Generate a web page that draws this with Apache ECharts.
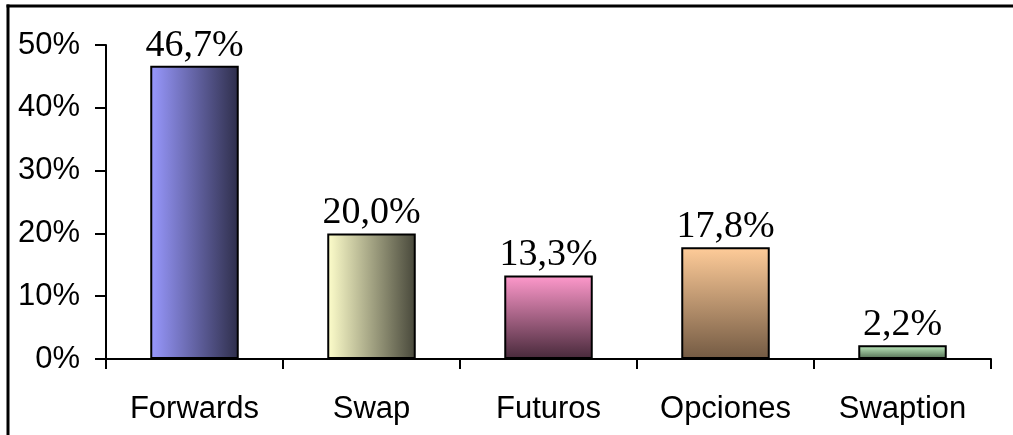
<!DOCTYPE html>
<html>
<head>
<meta charset="utf-8">
<script src="https://cdn.jsdelivr.net/npm/echarts@6/dist/echarts.min.js"></script>
<style>
  html, body { margin: 0; padding: 0; background: #fff; overflow: hidden; }
  #chart { width: 1013px; height: 435px; }
</style>
</head>
<body>
<div id="chart"></div>
<script>
// Instrument shares (percent)
const categories = ['Forwards', 'Swap', 'Futuros', 'Opciones', 'Swaption'];
const shares = [46.7, 20.0, 13.3, 17.8, 2.2];
const yTicks = [0, 10, 20, 30, 40, 50];

// Fill gradients per bar: [direction, light end, dark end]
const fills = [
  ['h', '#9999ff', '#2e2e4a'],
  ['h', '#ffffcc', '#47473a'],
  ['v', '#ff99cc', '#47293a'],
  ['v', '#ffcc99', '#735a43'],
  ['v', '#c4f2c4', '#4f6b4f']
];

function gradient(f) {
  const horiz = f[0] === 'h';
  return new echarts.graphic.LinearGradient(0, 0, horiz ? 1 : 0, horiz ? 0 : 1, [
    { offset: 0, color: f[1] },
    { offset: 1, color: f[2] }
  ]);
}

const chart = echarts.init(document.getElementById('chart'));
chart.setOption({
  animation: false,
  backgroundColor: '#ffffff',
  // chart frame: left and top edges (the rest runs off the page)
  graphic: [
    {
      type: 'line',
      shape: { x1: 8, y1: 4.5, x2: 8, y2: 440 },
      style: { stroke: '#000', lineWidth: 3 },
      silent: true
    },
    {
      type: 'line',
      shape: { x1: 6.5, y1: 6, x2: 1013, y2: 6 },
      style: { stroke: '#000', lineWidth: 3 },
      silent: true
    }
  ],
  grid: { left: 106, right: 22, top: 45, bottom: 76, containLabel: false },
  xAxis: {
    type: 'category',
    data: categories,
    axisLine: { lineStyle: { color: '#000', width: 2 } },
    axisTick: { show: true, length: 10, lineStyle: { color: '#000', width: 2 } },
    axisLabel: {
      color: '#000', fontFamily: 'Liberation Sans, Arial, sans-serif',
      fontSize: 31, margin: 35
    }
  },
  yAxis: {
    type: 'value',
    min: yTicks[0], max: yTicks[yTicks.length - 1], interval: 10,
    splitLine: { show: false },
    axisLine: { show: true, lineStyle: { color: '#000', width: 2 } },
    axisTick: { show: true, length: 11, lineStyle: { color: '#000', width: 2 } },
    axisLabel: {
      color: '#000', fontFamily: 'Liberation Sans, Arial, sans-serif',
      fontSize: 31, margin: 26,
      formatter: v => v + '%'
    }
  },
  series: [{
    type: 'bar',
    barCategoryGap: '50%',
    data: shares.map((v, i) => ({
      value: v,
      itemStyle: { color: gradient(fills[i]), borderColor: '#000', borderWidth: 2 }
    })),
    label: {
      show: true,
      position: 'top',
      distance: 1,
      color: '#000',
      fontFamily: 'Liberation Serif, Times New Roman, serif',
      fontSize: 38,
      formatter: p => p.value.toFixed(1).replace('.', ',') + '%'
    }
  }]
});
</script>
</body>
</html>
